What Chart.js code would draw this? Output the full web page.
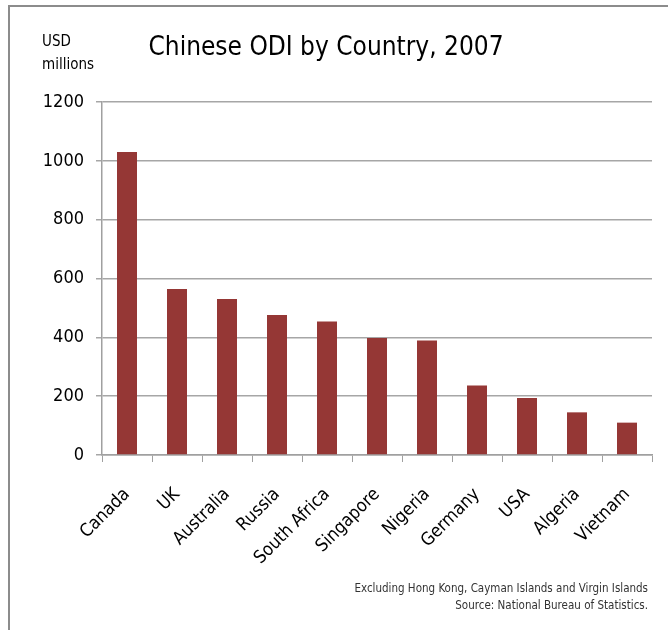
<!DOCTYPE html>
<html>
<head>
<meta charset="utf-8">
<script src="https://cdn.jsdelivr.net/npm/chart.js@4.4.0/dist/chart.umd.min.js"></script>
<style>
  html, body { margin: 0; padding: 0; background: #fff; }
  #wrap { width: 668px; height: 630px; position: relative; }
</style>
</head>
<body>
<div id="wrap"><canvas id="grafico"></canvas></div>
<script>
const paises = ["Canada", "UK", "Australia", "Russia", "South Africa", "Singapore", "Nigeria", "Germany", "USA", "Algeria", "Vietnam"]
const odi = [1030, 564, 530, 476, 454, 398, 389, 236, 194, 145, 110]
const ticksY = [0, 200, 400, 600, 800, 1000, 1200]

const titulo = "Chinese ODI by Country, 2007"
const unidad = ["USD", "millions"]
const notas = ["Excluding Hong Kong, Cayman Islands and Virgin Islands", "Source: National Bureau of Statistics."]

const fuente = "'Liberation Sans Narrow', 'DejaVu Sans Condensed', sans-serif"

// textos y marco dibujados sobre el canvas
const textos = {
  id: "textos",
  afterDraw(chart) {
    const ctx = chart.ctx
    ctx.save()
    ctx.strokeStyle = "#8c8c8c"
    ctx.lineWidth = 2
    ctx.beginPath()
    ctx.moveTo(668, 6)
    ctx.lineTo(9, 6)
    ctx.lineTo(9, 630)
    ctx.stroke()

    ctx.fillStyle = "#000"
    ctx.textBaseline = "middle"
    ctx.textAlign = "center"
    ctx.font = "26px " + fuente
    ctx.fillText(titulo, 326, 48)

    ctx.textAlign = "left"
    ctx.font = "15px " + fuente
    ctx.fillText(unidad[0], 42, 42)
    ctx.fillText(unidad[1], 42, 65)

    ctx.textAlign = "right"
    ctx.fillStyle = "#333"
    ctx.font = "11.5px " + fuente
    ctx.fillText(notas[0], 648, 589)
    ctx.fillText(notas[1], 648, 606)
    ctx.restore()
  }
}

const data = {
  labels: paises,
  datasets: [
    {
      label: titulo,
      backgroundColor: "rgb(149,55,53)",
      data: odi,
      categoryPercentage: 1,
      barPercentage: 0.4,
    },
  ],
}

const config = {
  type: "bar",
  data: data,
  options: {
    responsive: false,
    animation: false,
    layout: { padding: { top: 102, right: 16, left: 0, bottom: 0 } },
    plugins: {
      legend: { display: false },
      tooltip: { enabled: false },
    },
    scales: {
      x: {
        grid: { display: true, drawOnChartArea: false, offset: true, color: "#a0a0a0", tickLength: 7 },
        border: { color: "#a0a0a0", width: 1.5 },
        ticks: {
          color: "#000",
          font: { family: fuente, size: 18 },
          minRotation: 45,
          maxRotation: 45,
          padding: 22,
        },
        afterFit: (s) => { s.height = 175 },
      },
      y: {
        min: 0,
        max: 1200,
        afterBuildTicks: (s) => { s.ticks = ticksY.map(v => ({ value: v })) },
        grid: { color: "#a6a6a6", lineWidth: 1.5, tickLength: 6 },
        border: { color: "#a0a0a0", width: 1.5 },
        ticks: {
          color: "#000",
          font: { family: fuente, size: 18 },
          padding: 12,
          callback: (v) => String(v),
        },
        afterFit: (s) => { s.width = 102 },
      },
    },
  },
  plugins: [textos],
}

const canvas = document.getElementById("grafico")
canvas.width = 668
canvas.height = 630
const myChart = new Chart(canvas, config)
</script>
</body>
</html>
